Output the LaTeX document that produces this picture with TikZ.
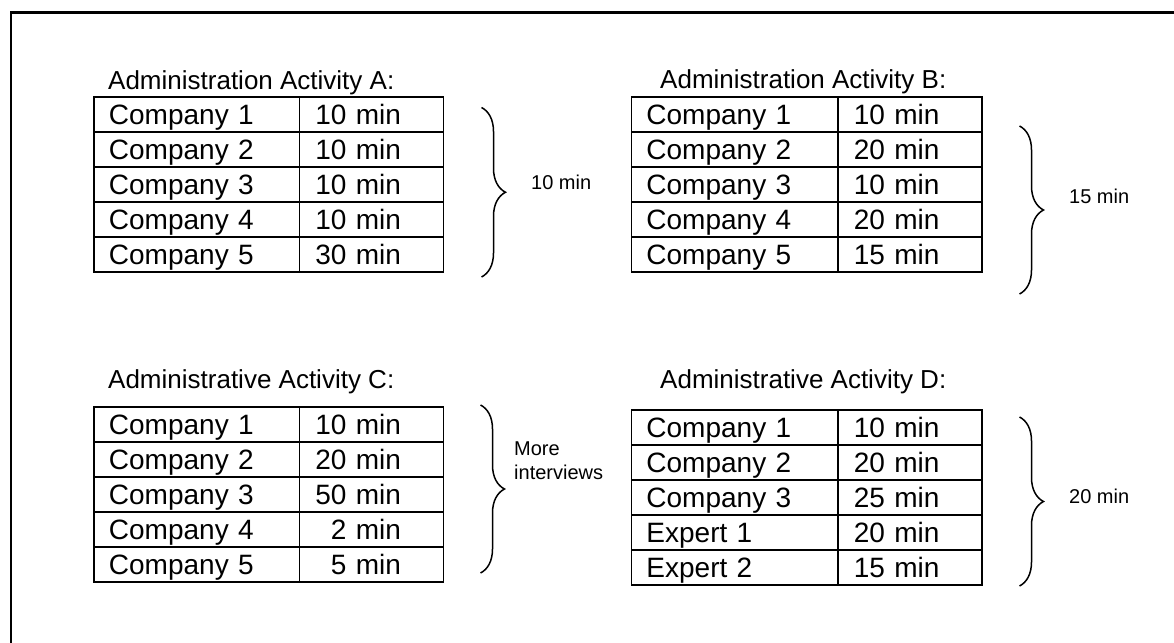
\documentclass[tikz,border=0pt]{standalone}
\usepackage{fontspec}
\setmainfont{Liberation Sans}
\usetikzlibrary{decorations.pathreplacing}
\newcommand\acttab[5]{%
  \foreach \n/\t [count=\i from 0] in {#5} {
    \node[namecell, minimum width=#4pt, text width=#4pt] (#1n\i) at (#2, {#3+35*\i}) {\kern15pt\n};
    \node[timecell] (#1t\i) at ({#2+#4}, {#3+35*\i}) {\t\kern42.5pt};
  }}
\begin{document}
\begin{tikzpicture}[x=1pt,y=-1pt,
  cell/.style={draw, line width=1.9pt, anchor=north west, minimum height=35pt,
    inner xsep=0pt, inner ysep=0pt, text height=28pt, text depth=7pt,
    font=\fontsize{28}{34}\selectfont},
  namecell/.style={cell, align=left},
  timecell/.style={cell, text width=144pt, minimum width=144pt, align=right},
  title/.style={anchor=base west, inner sep=0pt, font=\fontsize{26}{30}\selectfont},
  sidelabel/.style={anchor=base west, inner sep=0pt, align=left, font=\fontsize{20}{24}\selectfont},
  bracepath/.style={decorate, decoration={brace, amplitude=24pt}, line width=1.5pt},
  frame/.style={line width=2.2pt}
]
\useasboundingbox (0,0) rectangle (1174,642);
% outer frame (only top and left edges visible)
\coordinate (fbl) at (11,660);
\coordinate (ftl) at (11,12.5);
\coordinate (ftr) at (1190,12.5);
\draw[frame] (fbl) -- (ftl) -- (ftr);

% Activity A
\node[title] (titA) at (108,89) {Administration Activity A:};
\acttab{a}{93}{96}{205.5}{Company 1/10 min, Company 2/10 min, Company 3/10 min, Company 4/10 min, Company 5/30 min}
\coordinate (bA1) at (481.5,107.5);
\coordinate (bA2) at (481.5,277);
\draw[bracepath] (bA1) -- (bA2);
\node[sidelabel] (labA) at (531,189) {10 min};

% Activity B
\node[title] (titB) at (660,88.5) {Administration Activity B:};
\acttab{b}{630.5}{96}{206.5}{Company 1/10 min, Company 2/20 min, Company 3/10 min, Company 4/20 min, Company 5/15 min}
\coordinate (bB1) at (1019.5,126);
\coordinate (bB2) at (1019.5,294);
\draw[bracepath] (bB1) -- (bB2);
\node[sidelabel] (labB) at (1069,203) {15 min};

% Activity C
\node[title] (titC) at (108,388.5) {Administrative Activity C:};
\acttab{c}{93}{406}{205.5}{Company 1/10 min, Company 2/20 min, Company 3/50 min, Company 4/2 min, Company 5/5 min}
\coordinate (bC1) at (480.5,405);
\coordinate (bC2) at (480.5,573);
\draw[bracepath] (bC1) -- (bC2);
\node[sidelabel] (labC) at (514,479) {More\\[0pt]interviews};

% Activity D
\node[title] (titD) at (660,388.5) {Administrative Activity D:};
\acttab{d}{630.5}{409}{206.5}{Company 1/10 min, Company 2/20 min, Company 3/25 min, Expert 1/20 min, Expert 2/15 min}
\coordinate (bD1) at (1019.5,417);
\coordinate (bD2) at (1019.5,586);
\draw[bracepath] (bD1) -- (bD2);
\node[sidelabel] (labD) at (1069,503) {20 min};
\end{tikzpicture}
\end{document}
